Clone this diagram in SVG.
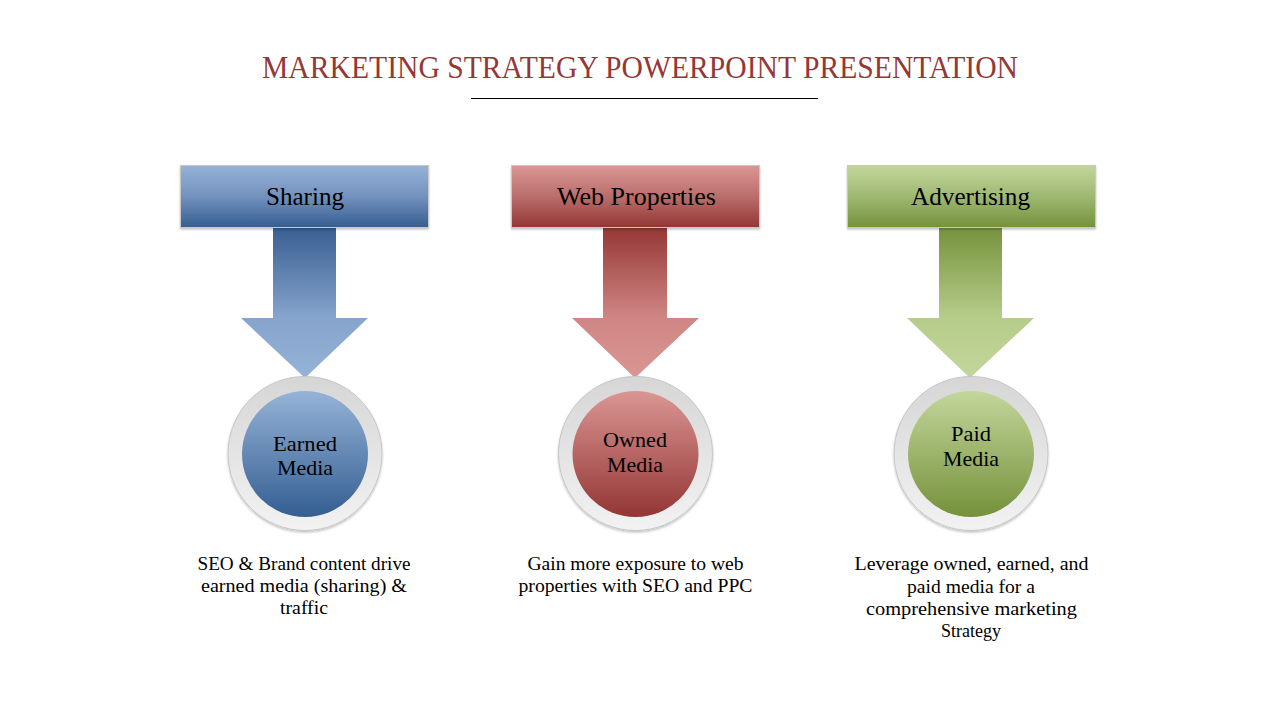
<svg xmlns="http://www.w3.org/2000/svg" width="1280" height="720" viewBox="0 0 1280 720">
<defs>
<linearGradient id="bBox" x1="0" y1="0" x2="0" y2="1"><stop offset="0" stop-color="#95B3D7"/><stop offset="0.5" stop-color="#7391BD"/><stop offset="1" stop-color="#345E91"/></linearGradient>
<linearGradient id="rBox" x1="0" y1="0" x2="0" y2="1"><stop offset="0" stop-color="#DA9694"/><stop offset="0.5" stop-color="#BA6E6C"/><stop offset="1" stop-color="#933634"/></linearGradient>
<linearGradient id="gBox" x1="0" y1="0" x2="0" y2="1"><stop offset="0" stop-color="#C3D69B"/><stop offset="0.5" stop-color="#9FB872"/><stop offset="1" stop-color="#75913B"/></linearGradient>
<linearGradient id="bArr" x1="0" y1="0" x2="0" y2="1"><stop offset="0" stop-color="#385E91"/><stop offset="0.6" stop-color="#86A4CC"/><stop offset="1" stop-color="#95B3D7"/></linearGradient>
<linearGradient id="rArr" x1="0" y1="0" x2="0" y2="1"><stop offset="0" stop-color="#953735"/><stop offset="0.6" stop-color="#CF8684"/><stop offset="1" stop-color="#DA9694"/></linearGradient>
<linearGradient id="gArr" x1="0" y1="0" x2="0" y2="1"><stop offset="0" stop-color="#76923C"/><stop offset="0.6" stop-color="#B6CC8A"/><stop offset="1" stop-color="#C3D69B"/></linearGradient>
<linearGradient id="bCir" x1="0" y1="0" x2="0" y2="1"><stop offset="0" stop-color="#95B3D7"/><stop offset="1" stop-color="#345E91"/></linearGradient>
<linearGradient id="rCir" x1="0" y1="0" x2="0" y2="1"><stop offset="0" stop-color="#DA9694"/><stop offset="1" stop-color="#933634"/></linearGradient>
<linearGradient id="gCir" x1="0" y1="0" x2="0" y2="1"><stop offset="0" stop-color="#C3D69B"/><stop offset="1" stop-color="#75913B"/></linearGradient>
<linearGradient id="ring" x1="0" y1="0" x2="0" y2="1"><stop offset="0" stop-color="#D6D6D6"/><stop offset="1" stop-color="#F2F2F2"/></linearGradient>
<filter id="sh" x="-10%" y="-10%" width="120%" height="130%"><feDropShadow dx="0" dy="1.5" stdDeviation="1.2" flood-color="#000" flood-opacity="0.25"/></filter>
</defs>
<style>
.t{font-family:"Liberation Serif","DejaVu Serif",serif;fill:#000;text-anchor:middle}
.box{font-size:25px}
.cir{font-size:22px}
.desc{font-size:18px}
.ring{fill:url(#ring);stroke:#C6C6C6;stroke-width:1}
.frame{stroke:#C8C8C8;stroke-width:1}
</style>
<rect width="1280" height="720" fill="#FFFFFF"/>
<g id="title">
<text x="640" y="78" font-family="'Liberation Serif','DejaVu Serif',serif" font-size="31" fill="#953735" text-anchor="middle" textLength="756" lengthAdjust="spacingAndGlyphs">MARKETING STRATEGY POWERPOINT PRESENTATION</text>
<line x1="471" y1="98.5" x2="818" y2="98.5" stroke="#000" stroke-width="1.2"/>
</g>
<g id="connectors">
<path d="M273,227 H336 V318 H368 L305,378 L241,318 H273 Z" fill="url(#bArr)"/>
<path d="M603,227 H667 V318 H699 L635,378 L572,318 H603 Z" fill="url(#rArr)"/>
<path d="M939,227 H1002 V318 H1034 L970,378 L907,318 H939 Z" fill="url(#gArr)"/>
</g>
<g id="sharing">
<rect x="180.5" y="165.5" width="248" height="62" fill="url(#bBox)" class="frame" filter="url(#sh)"/>
<text class="t box" x="305" y="205" textLength="78" lengthAdjust="spacingAndGlyphs">Sharing</text>
</g>
<g id="web-properties">
<rect x="511.5" y="165.5" width="248" height="62" fill="url(#rBox)" class="frame" filter="url(#sh)"/>
<text class="t box" x="636.5" y="205" textLength="159" lengthAdjust="spacingAndGlyphs">Web Properties</text>
</g>
<g id="advertising">
<rect x="847.5" y="165.5" width="248" height="62" fill="url(#gBox)" class="frame" filter="url(#sh)"/>
<text class="t box" x="970.5" y="205" textLength="119" lengthAdjust="spacingAndGlyphs">Advertising</text>
</g>
<g id="earned-media">
<circle cx="305" cy="453.5" r="77" class="ring" filter="url(#sh)"/>
<circle cx="305" cy="454" r="63" fill="url(#bCir)"/>
<text class="t cir" x="305" y="451" textLength="64" lengthAdjust="spacingAndGlyphs">Earned</text>
<text class="t cir" x="305" y="475" textLength="56" lengthAdjust="spacingAndGlyphs">Media</text>
</g>
<g id="owned-media">
<circle cx="635.5" cy="453.5" r="77" class="ring" filter="url(#sh)"/>
<circle cx="635.5" cy="454" r="63" fill="url(#rCir)"/>
<text class="t cir" x="635" y="447" textLength="64" lengthAdjust="spacingAndGlyphs">Owned</text>
<text class="t cir" x="635" y="472" textLength="56" lengthAdjust="spacingAndGlyphs">Media</text>
</g>
<g id="paid-media">
<circle cx="971" cy="453.5" r="77" class="ring" filter="url(#sh)"/>
<circle cx="971" cy="454" r="63" fill="url(#gCir)"/>
<text class="t cir" x="971" y="441" textLength="40" lengthAdjust="spacingAndGlyphs">Paid</text>
<text class="t cir" x="971" y="466" textLength="56" lengthAdjust="spacingAndGlyphs">Media</text>
</g>
<g id="desc-sharing">
<text class="t desc" x="304" y="570" textLength="213" lengthAdjust="spacingAndGlyphs">SEO &amp; Brand content drive</text>
<text class="t desc" x="304" y="592" textLength="206" lengthAdjust="spacingAndGlyphs">earned media (sharing) &amp;</text>
<text class="t desc" x="304" y="614" textLength="48" lengthAdjust="spacingAndGlyphs">traffic</text>
</g>
<g id="desc-web">
<text class="t desc" x="635.5" y="570" textLength="216" lengthAdjust="spacingAndGlyphs">Gain more exposure to web</text>
<text class="t desc" x="635.5" y="592" textLength="234" lengthAdjust="spacingAndGlyphs">properties with SEO and PPC</text>
</g>
<g id="desc-advertising">
<text class="t desc" x="971.5" y="570" textLength="234" lengthAdjust="spacingAndGlyphs">Leverage owned, earned, and</text>
<text class="t desc" x="971" y="593" textLength="128" lengthAdjust="spacingAndGlyphs">paid media for a</text>
<text class="t desc" x="971.5" y="615" textLength="211" lengthAdjust="spacingAndGlyphs">comprehensive marketing</text>
<text class="t desc" x="971" y="637" textLength="60" lengthAdjust="spacingAndGlyphs">Strategy</text>
</g>
</svg>
